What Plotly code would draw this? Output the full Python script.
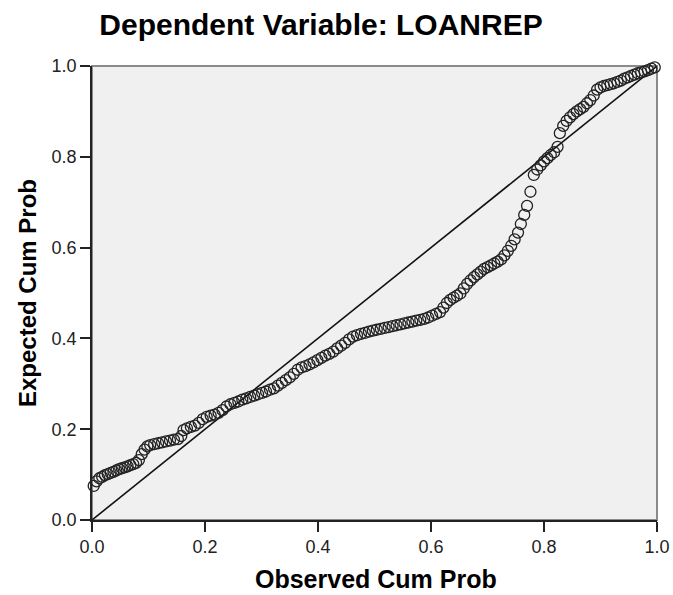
import plotly.graph_objects as go

title_text = "Dependent Variable: LOANREP"
x_title = "Observed Cum Prob"
y_title = "Expected Cum Prob"
tick_vals = [0.0, 0.2, 0.4, 0.6, 0.8, 1.0]
tick_text = ["0.0", "0.2", "0.4", "0.6", "0.8", "1.0"]
ref_line = [0.0, 1.0]

observed = [
    0.003, 0.008, 0.013, 0.018, 0.023, 0.028, 0.033, 0.038, 0.043, 0.048,
    0.053, 0.058, 0.063, 0.068, 0.073, 0.078, 0.083, 0.088, 0.093, 0.098,
    0.103, 0.110, 0.117, 0.124, 0.131, 0.138, 0.145, 0.152, 0.158, 0.162,
    0.168, 0.175, 0.182, 0.189, 0.196, 0.203, 0.210, 0.217, 0.224, 0.231,
    0.238, 0.245, 0.252, 0.259, 0.266, 0.273, 0.280, 0.287, 0.294, 0.301,
    0.308, 0.315, 0.322, 0.329, 0.336, 0.343, 0.350, 0.357, 0.364, 0.371,
    0.378, 0.385, 0.392, 0.399, 0.406, 0.413, 0.420, 0.427, 0.434, 0.441,
    0.448, 0.455, 0.462, 0.469, 0.476, 0.483, 0.490, 0.497, 0.504, 0.511,
    0.518, 0.525, 0.532, 0.539, 0.546, 0.553, 0.560, 0.567, 0.574, 0.581,
    0.588, 0.595, 0.602, 0.609, 0.616, 0.622, 0.628, 0.634, 0.640, 0.646,
    0.652, 0.658, 0.664, 0.670, 0.676, 0.682, 0.688, 0.694, 0.700, 0.706,
    0.712, 0.718, 0.724, 0.730, 0.736, 0.742, 0.748, 0.754, 0.759, 0.765,
    0.770, 0.776, 0.782, 0.788, 0.794, 0.800, 0.806, 0.812, 0.818, 0.824,
    0.828, 0.834, 0.840, 0.846, 0.852, 0.858, 0.864, 0.870, 0.876, 0.882,
    0.888, 0.894, 0.900, 0.906, 0.912, 0.918, 0.924, 0.930, 0.936, 0.942,
    0.948, 0.954, 0.960, 0.966, 0.972, 0.978, 0.984, 0.990, 0.996,
]

expected = [
    0.075, 0.085, 0.092, 0.095, 0.099, 0.101, 0.104, 0.106, 0.109, 0.112,
    0.114, 0.116, 0.118, 0.121, 0.123, 0.126, 0.132, 0.145, 0.155, 0.162,
    0.165, 0.167, 0.169, 0.171, 0.173, 0.175, 0.177, 0.178, 0.185, 0.198,
    0.202, 0.205, 0.208, 0.214, 0.222, 0.227, 0.230, 0.232, 0.236, 0.242,
    0.250, 0.255, 0.258, 0.261, 0.265, 0.268, 0.271, 0.274, 0.277, 0.280,
    0.283, 0.287, 0.290, 0.296, 0.302, 0.308, 0.314, 0.322, 0.331, 0.336,
    0.339, 0.343, 0.347, 0.352, 0.357, 0.362, 0.366, 0.371, 0.378, 0.384,
    0.390, 0.398, 0.404, 0.407, 0.410, 0.412, 0.415, 0.417, 0.419, 0.421,
    0.423, 0.425, 0.427, 0.429, 0.431, 0.433, 0.435, 0.437, 0.439, 0.441,
    0.443, 0.446, 0.450, 0.454, 0.458, 0.468, 0.478, 0.485, 0.490, 0.494,
    0.499, 0.510, 0.520, 0.528, 0.535, 0.541, 0.547, 0.553, 0.557, 0.561,
    0.565, 0.569, 0.574, 0.583, 0.593, 0.604, 0.618, 0.633, 0.652, 0.672,
    0.692, 0.723, 0.760, 0.772, 0.781, 0.790, 0.797, 0.804, 0.810, 0.822,
    0.852, 0.868, 0.879, 0.887, 0.894, 0.900, 0.905, 0.910, 0.918, 0.925,
    0.935, 0.948, 0.953, 0.956, 0.958, 0.960, 0.962, 0.965, 0.968, 0.972,
    0.975, 0.978, 0.981, 0.984, 0.986, 0.988, 0.991, 0.994, 0.997,
]

FONT = "Liberation Sans, Arial, sans-serif"

fig = go.Figure()
fig.add_trace(go.Scatter(
    x=ref_line, y=ref_line, mode="lines",
    line=dict(color="#111111", width=1.6),
    hoverinfo="skip", showlegend=False, cliponaxis=False,
))
fig.add_trace(go.Scatter(
    x=observed, y=expected, mode="markers",
    marker=dict(symbol="circle-open", size=11, color="#222222",
                line=dict(width=1.3, color="#222222")),
    showlegend=False, cliponaxis=False,
))

fig.add_shape(type="rect", xref="paper", yref="paper", x0=0, y0=0, x1=1, y1=1,
              line=dict(color="#8a8a8a", width=2), layer="below")

axis_common = dict(
    range=[0, 1], tickvals=tick_vals, ticktext=tick_text,
    ticks="outside", ticklen=10, tickwidth=1.5, tickcolor="#222222",
    showline=True, linecolor="#222222", linewidth=1.5,
    showgrid=False, zeroline=False, automargin=False,
    tickfont=dict(family=FONT, size=18, color="#222222"),
)

W, H = 673, 595
fig.update_layout(
    width=W, height=H,
    margin=dict(l=92, r=16, t=66, b=75),
    paper_bgcolor="white", plot_bgcolor="#f0f0f0",
    title=dict(text="<b>" + title_text + "</b>", x=321 / W, xref="container",
               xanchor="center", y=1 - 24 / H, yref="container", yanchor="middle",
               font=dict(family=FONT, size=30, color="#000000")),
    xaxis=axis_common,
    yaxis=axis_common,
    annotations=[
        dict(text="<b>" + x_title + "</b>", xref="paper", yref="paper",
             x=0.503, y=-0.13, xanchor="center", yanchor="middle", showarrow=False,
             font=dict(family=FONT, size=25, color="#000000")),
        dict(text="<b>" + y_title + "</b>", xref="paper", yref="paper",
             x=-0.115, y=0.5, xanchor="center", yanchor="middle", showarrow=False,
             textangle=-90, font=dict(family=FONT, size=24, color="#000000")),
    ],
)

# remove the default 8px page margin so the 673x595 figure fills the window exactly
fig.write_html(
    "out.html",
    config={"displayModeBar": False},
    post_script="document.body.style.margin='0';"
                "document.documentElement.style.overflow='hidden';",
)
